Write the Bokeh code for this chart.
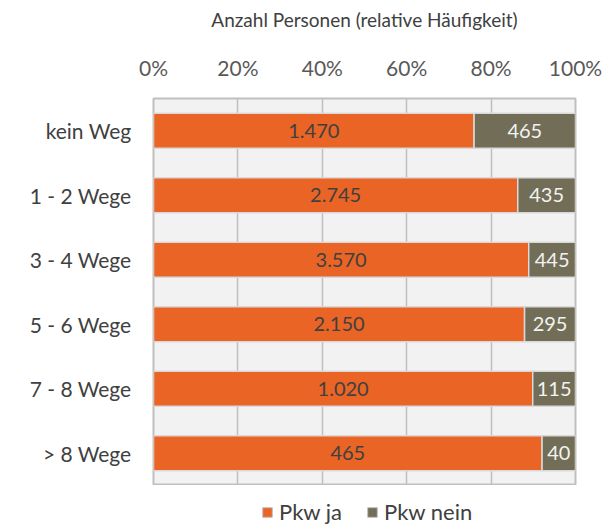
from bokeh.plotting import figure
from bokeh.models import ColumnDataSource, FactorRange, Range1d, Legend, LegendItem, FixedTicker
from bokeh.layouts import column
from bokeh.embed import file_html
from bokeh.resources import INLINE
from bokeh.core.properties import value

categories = ["kein Weg", "1 - 2 Wege", "3 - 4 Wege", "5 - 6 Wege", "7 - 8 Wege", "> 8 Wege"]
pkw_ja = [1470, 2745, 3570, 2150, 1020, 465]
pkw_nein = [465, 435, 445, 295, 115, 40]
ticks = [0, 0.2, 0.4, 0.6, 0.8, 1.0]
tick_labels = ["0%", "20%", "40%", "60%", "80%", "100%"]
series_names = ["Pkw ja", "Pkw nein"]
title_text = "Anzahl Personen (relative Häufigkeit)"

ORANGE = "#EA6425"
OLIVE = "#716D56"
FONT = "Lato"

def fmt(v):
    return f"{v:,}".replace(",", ".")

totals = [a + b for a, b in zip(pkw_ja, pkw_nein)]
ja_frac = [a / t for a, t in zip(pkw_ja, totals)]
src = ColumnDataSource(dict(
    cat=categories,
    ja0=[0] * len(categories),
    ja1=ja_frac,
    nein1=[1.0] * len(categories),
    ja_mid=[f / 2 for f in ja_frac],
    nein_mid=[(f + 1) / 2 for f in ja_frac],
    ja_lbl=[fmt(v) for v in pkw_ja],
    nein_lbl=[fmt(v) for v in pkw_nein],
))

p = figure(frame_width=422, frame_height=387, output_backend="svg", toolbar_location=None,
           y_range=FactorRange(factors=list(reversed(categories))), x_range=Range1d(0, 1),
           x_axis_location="above",
           min_border_left=153, min_border_right=34, min_border_top=98, min_border_bottom=0)

p.background_fill_color = "#F2F2F2"
p.outline_line_color = "#BFBFBF"
p.outline_line_width = 2

r1 = p.hbar(y="cat", left="ja0", right="ja1", height=0.54, source=src,
            fill_color=ORANGE, line_color="#D9D9D9", line_width=1.5)
r2 = p.hbar(y="cat", left="ja1", right="nein1", height=0.54, source=src,
            fill_color=OLIVE, line_color="#D9D9D9", line_width=1.5)

p.text(x="ja_mid", y="cat", text="ja_lbl", source=src, text_align="center",
       text_baseline="middle", text_color="#404040", text_font=value(FONT),
       text_font_size="20px")
p.text(x="nein_mid", y="cat", text="nein_lbl", source=src, text_align="center",
       text_baseline="middle", text_color="#F2F2F2", text_font=value(FONT),
       text_font_size="20px")

xa = p.xaxis[0]
xa.ticker = FixedTicker(ticks=ticks)
xa.major_label_overrides = {t: l for t, l in zip(ticks, tick_labels)}
xa.axis_label = title_text
xa.axis_label_text_font = FONT
xa.axis_label_text_font_style = "normal"
xa.axis_label_text_font_size = "19px"
xa.axis_label_text_color = "#404040"
xa.axis_label_standoff = 21
xa.major_label_text_font = FONT
xa.major_label_text_font_size = "21px"
xa.major_label_text_color = "#595959"
xa.major_label_standoff = 19
xa.axis_line_color = None
xa.major_tick_line_color = None
xa.minor_tick_line_color = None
xa.major_tick_out = 0
xa.major_tick_in = 0

ya = p.yaxis[0]
ya.major_label_text_font = FONT
ya.major_label_text_font_size = "21px"
ya.major_label_text_color = "#404040"
ya.major_label_standoff = 22
ya.axis_line_color = None
ya.major_tick_line_color = None
ya.minor_tick_line_color = None
ya.major_tick_out = 0
ya.major_tick_in = 0

p.xgrid.ticker = FixedTicker(ticks=ticks)
p.xgrid.grid_line_color = "#BFBFBF"
p.xgrid.grid_line_width = 1.5
p.ygrid.grid_line_color = None

# legend strip (its frame aligns with the main plot frame in the column)
lg = figure(width=609, height=44, output_backend="svg", toolbar_location=None,
            x_range=Range1d(0, 1), y_range=Range1d(0, 1),
            min_border_left=0, min_border_right=0, min_border_top=0, min_border_bottom=0)
lg.axis.visible = False
lg.grid.visible = False
lg.outline_line_color = None
lg.background_fill_alpha = 0
lg.border_fill_alpha = 0
nan = float("nan")
dummy = ColumnDataSource(dict(y=[nan], left=[nan], right=[nan]))
d1 = lg.hbar(y="y", left="left", right="right", height=1, source=dummy,
             fill_color=ORANGE, line_color="#BFBFBF", line_width=1)
d2 = lg.hbar(y="y", left="left", right="right", height=1, source=dummy,
             fill_color=OLIVE, line_color="#BFBFBF", line_width=1)
legend = Legend(items=[LegendItem(label=series_names[0], renderers=[d1]),
                       LegendItem(label=series_names[1], renderers=[d2])],
                orientation="horizontal", location=(108, 4),
                label_text_font=FONT, label_text_font_size="22px",
                label_text_color="#404040", glyph_width=12, glyph_height=12,
                label_standoff=6, spacing=24, border_line_color=None,
                background_fill_alpha=0, padding=0, margin=0)
lg.add_layout(legend)

layout = column(p, lg, spacing=0)
open("out.html", "w").write(file_html(layout, INLINE))
